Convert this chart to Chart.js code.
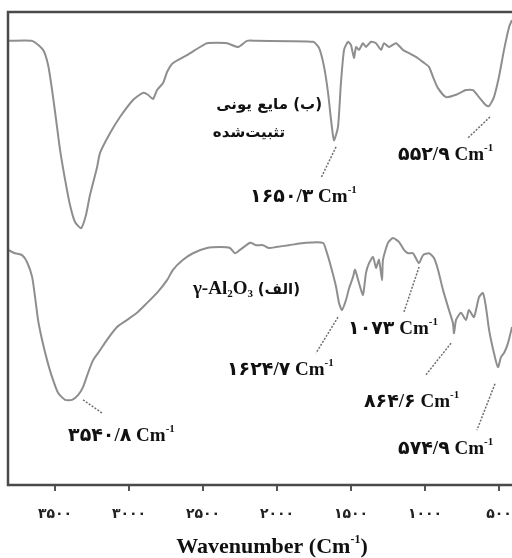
<!DOCTYPE html>
<html><head><meta charset="utf-8">
<script src="https://cdn.jsdelivr.net/npm/chart.js@4.4.1/dist/chart.umd.min.js"></script>
<style>html,body{margin:0;padding:0;background:#fff}#wrap{width:512px;height:558px;position:relative}</style>
</head><body><div id="wrap"><canvas id="c" width="512" height="558"></canvas></div>
<script>
// ---- data ----
const tickValues = [3500, 3000, 2500, 2000, 1500, 1000, 500];

// (ب) ionic liquid immobilized spectrum
const ilWn = [3818,3655,3581,3547,3520,3493,3466,3432,3399,3365,3324,3291,3264,3216,3196,3128,3061,2973,2905,2872,2838,2811,2770,2743,2703,2608,2520,2473,2338,2263,2203,2142,1757,1716,1682,1655,1635,1615,1588,1568,1547,1520,1500,1480,1466,1446,1419,1399,1365,1331,1297,1277,1243,1196,1149,1108,1061,1013,973,946,912,858,790,723,676,635,588,567,534,500,466,432,412];
const ilT  = [93.9,93.9,92.0,88.8,83.5,77.2,70.8,64.5,59.2,55.6,54.3,57.1,61.3,67.2,70.2,74.4,77.8,81.4,82.9,82.5,81.6,83.5,85.0,87.3,89.2,90.9,92.6,93.4,93.4,92.6,93.9,93.9,93.7,92.4,88.4,82.9,77.2,72.9,75.7,85.0,92.0,93.7,93.0,90.3,92.6,92.0,93.4,92.6,93.7,93.4,92.0,93.4,92.6,93.4,92.0,91.3,90.5,89.4,88.4,86.3,83.9,82.0,82.5,83.5,83.5,82.0,80.3,80.1,82.0,86.3,92.0,96.8,98.3];

// (الف) gamma-Al2O3 spectrum
const alWn = [3818,3770,3723,3689,3655,3635,3615,3588,3554,3520,3480,3432,3385,3345,3311,3277,3243,3196,3149,3081,3013,2946,2878,2811,2743,2703,2635,2568,2473,2385,2318,2284,2250,2182,2142,2095,2054,2007,1919,1804,1689,1669,1635,1601,1581,1561,1534,1513,1486,1473,1446,1419,1399,1378,1351,1331,1311,1290,1284,1250,1216,1176,1142,1115,1081,1041,1013,973,939,912,878,838,811,804,790,757,723,703,669,635,608,588,567,534,507,486,466,439,412];
const alT  = [49.7,49.0,48.6,47.1,44.0,39.7,34.9,30.7,26.4,22.8,19.5,18.0,18.0,19.0,20.7,23.7,26.4,28.5,30.7,33.4,34.9,36.4,38.5,40.6,43.3,45.5,47.6,49.0,50.1,50.3,50.1,49.0,49.7,51.2,50.7,50.7,50.1,50.3,50.7,51.2,51.2,49.7,46.1,41.9,38.5,37.0,39.1,41.6,44.0,45.5,42.7,40.2,44.8,46.9,48.2,45.9,47.6,43.3,47.6,51.2,52.2,51.4,49.7,49.0,49.0,46.9,48.6,49.0,48.0,45.5,41.2,37.0,34.2,32.1,34.9,36.4,34.9,37.0,35.5,39.7,40.6,37.6,32.8,27.9,24.9,27.1,27.9,30.0,33.4];

const labelTexts = {
  il1: '(ب) مایع یونی',
  il2: 'تثبیت‌شده',
  al: 'γ-Al',
  alName: '(الف)',
  p1650: '۱۶۵۰/۳ Cm',
  p552: '۵۵۲/۹ Cm',
  p1624: '۱۶۲۴/۷ Cm',
  p1073: '۱۰۷۳ Cm',
  p864: '۸۶۴/۶ Cm',
  p574: '۵۷۴/۹ Cm',
  p3540: '۳۵۴۰/۸ Cm',
  axis: 'Wavenumber (Cm'
};

// ---- helpers / config ----
const faDigits = '۰۱۲۳۴۵۶۷۸۹';
const fa = v => String(v).replace(/\d/g, d => faDigits[d]);
const toPts = (xs, ys) => xs.map((x, i) => ({x, y: ys[i]}));

const SERIF = '"Liberation Serif", "DejaVu Sans", serif';
const F_MAIN = 'bold 19px ' + SERIF;
const F_SUP = 'bold 11px ' + SERIF;
const F_FA = 'bold 15px "DejaVu Sans"';

// annotations anchored in data units (wavenumber, transmittance)
const notes = [
  {wn: 1696, t: 80.5, align: 'right', parts: [[labelTexts.il1, 'fa']]},
  {wn: 1946, t: 74.6, align: 'right', parts: [[labelTexts.il2, 'fa']]},
  {wn: 2182, t: 60.9, parts: [[labelTexts.p1650, ''], ['-1', 'sup']]},
  {wn: 1182, t: 69.8, parts: [[labelTexts.p552, ''], ['-1', 'sup']]},
  {wn: 2568, t: 41.4, parts: [[labelTexts.al, ''], ['2', 'sub'], ['O', ''], ['3', 'sub'], [' ', ''], [labelTexts.alName, 'fa']]},
  {wn: 2338, t: 24.3, parts: [[labelTexts.p1624, ''], ['-1', 'sup']]},
  {wn: 1520, t: 33.0, parts: [[labelTexts.p1073, ''], ['-1', 'sup']]},
  {wn: 1412, t: 17.5, parts: [[labelTexts.p864, ''], ['-1', 'sup']]},
  {wn: 1182, t: 7.6, parts: [[labelTexts.p574, ''], ['-1', 'sup']]},
  {wn: 3412, t: 10.4, parts: [[labelTexts.p3540, ''], ['-1', 'sup']]}
];
const leaders = [
  [1601, 71.5, 1703, 64.9],
  [561, 77.8, 709, 73.4],
  [1588, 35.5, 1736, 27.9],
  [1040, 46.1, 1142, 36.6],
  [824, 30.0, 993, 23.3],
  [527, 21.4, 649, 11.6],
  [3311, 18.0, 3182, 15.2]
];

function drawParts(ctx, parts, x0, yc, align) {
  const fontOf = k => k === 'sup' || k === 'sub' ? F_SUP : (k === 'fa' ? F_FA : F_MAIN);
  const widths = parts.map(([t, k]) => {
    ctx.font = fontOf(k);
    ctx.direction = k === 'fa' ? 'rtl' : 'ltr';
    return ctx.measureText(t).width;
  });
  const total = widths.reduce((a, b) => a + b, 0);
  let x = align === 'right' ? x0 - total : x0;
  parts.forEach(([t, k], i) => {
    ctx.font = fontOf(k);
    ctx.direction = k === 'fa' ? 'rtl' : 'ltr';
    ctx.textBaseline = 'middle';
    let y = yc;
    if (k === 'sup') y = yc - 7;
    if (k === 'sub') y = yc + 5;
    if (k === 'fa') y = yc + 1;
    if (k === 'fa') {
      ctx.textAlign = 'right';
      ctx.fillText(t, x + widths[i], y);
    } else {
      ctx.textAlign = 'left';
      ctx.fillText(t, x, y);
    }
    x += widths[i];
  });
  return total;
}

const annotPlugin = {
  id: 'annot',
  afterDraw(chart) {
    const {ctx, chartArea: a, scales: {x, y}} = chart;
    ctx.save();
    // frame
    ctx.strokeStyle = '#4a4a4a';
    ctx.lineWidth = 2.5;
    ctx.beginPath();
    ctx.moveTo(chart.width, a.top);
    ctx.lineTo(a.left, a.top);
    ctx.lineTo(a.left, a.bottom);
    ctx.lineTo(chart.width, a.bottom);
    ctx.stroke();
    // leader lines
    ctx.strokeStyle = '#6e6e6e';
    ctx.lineWidth = 1.5;
    ctx.setLineDash([2, 1.5]);
    leaders.forEach(l => {
      ctx.beginPath();
      ctx.moveTo(x.getPixelForValue(l[0]), y.getPixelForValue(l[1]));
      ctx.lineTo(x.getPixelForValue(l[2]), y.getPixelForValue(l[3]));
      ctx.stroke();
    });
    ctx.setLineDash([]);
    // labels
    ctx.fillStyle = '#111';
    notes.forEach(n => drawParts(ctx, n.parts, x.getPixelForValue(n.wn), y.getPixelForValue(n.t), n.align || 'left'));
    // axis title
    const F_T = 'bold 22px ' + SERIF;
    ctx.font = F_T; ctx.direction = 'ltr';
    const w1 = ctx.measureText(labelTexts.axis).width;
    const w3 = ctx.measureText(')').width;
    ctx.font = 'bold 12px ' + SERIF;
    const w2 = ctx.measureText('-1').width;
    const cx = x.getPixelForValue(2034);
    const ty = 547;
    let tx = cx - (w1 + w2 + w3) / 2;
    ctx.textAlign = 'left'; ctx.textBaseline = 'middle';
    ctx.font = F_T; ctx.fillText(labelTexts.axis, tx, ty); tx += w1;
    ctx.font = 'bold 12px ' + SERIF; ctx.fillText('-1', tx, ty - 7); tx += w2;
    ctx.font = F_T; ctx.fillText(')', tx, ty);
    ctx.restore();
  }
};

const lineStyle = {borderColor: '#8e8e8e', borderWidth: 2, pointRadius: 0, tension: 0.2, fill: false};

new Chart(document.getElementById('c'), {
  type: 'line',
  data: {
    datasets: [
      Object.assign({label: labelTexts.il1, data: toPts(ilWn, ilT)}, lineStyle),
      Object.assign({label: labelTexts.alName, data: toPts(alWn, alT)}, lineStyle)
    ]
  },
  options: {
    responsive: false,
    animation: false,
    layout: {padding: {left: 8, top: 12, right: 0, bottom: 0}},
    plugins: {legend: {display: false}, tooltip: {enabled: false}},
    scales: {
      x: {
        type: 'linear', position: 'bottom', min: 412, max: 3818, reverse: true,
        afterBuildTicks: s => { s.ticks = tickValues.map(v => ({value: v})); },
        afterFit: s => { s.height = 73; s.paddingLeft = 0; s.paddingRight = 0; },
        border: {display: false},
        grid: {drawOnChartArea: false, drawTicks: true, tickLength: 6, color: '#555', lineWidth: 2},
        ticks: {
          callback: v => fa(v), autoSkip: false, maxRotation: 0, padding: 15,
          color: '#222', font: {family: '"DejaVu Sans"', size: 14, weight: 'bold'}
        }
      },
      y: {display: false, min: 0, max: 100}
    }
  },
  plugins: [annotPlugin]
});
</script>
</body></html>
